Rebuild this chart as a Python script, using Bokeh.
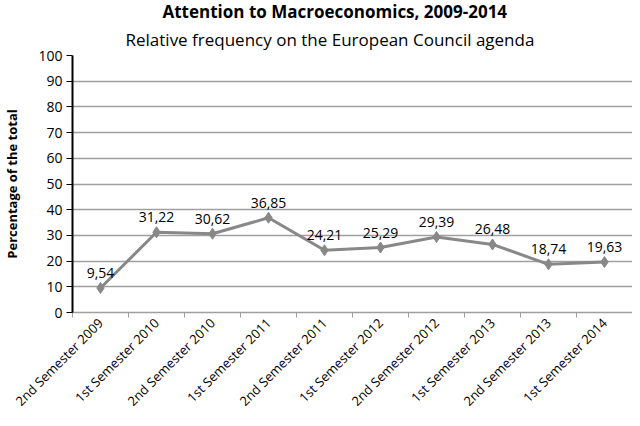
from bokeh.plotting import figure
from bokeh.models import FixedTicker, ColumnDataSource, Range1d, LabelSet, Title
from bokeh.core.properties import value
from bokeh.embed import file_html
from bokeh.resources import INLINE

categories = ["2nd Semester 2009", "1st Semester 2010", "2nd Semester 2010", "1st Semester 2011",
              "2nd Semester 2011", "1st Semester 2012", "2nd Semester 2012", "1st Semester 2013",
              "2nd Semester 2013", "1st Semester 2014"]
values = [9.54, 31.22, 30.62, 36.85, 24.21, 25.29, 29.39, 26.48, 18.74, 19.63]
value_labels = ["9,54", "31,22", "30,62", "36,85", "24,21", "25,29", "29,39", "26,48", "18,74", "19,63"]
y_ticks = list(range(0, 101, 10))

FONT = "Open Sans"
xs = [i + 0.5 for i in range(len(categories))]
src = ColumnDataSource(dict(x=xs, y=values, lab=value_labels))

p = figure(width=632, height=418, output_backend="svg", toolbar_location=None,
           x_range=Range1d(0, len(categories)), y_range=Range1d(0, 100),
           min_border_left=67, min_border_right=0, min_border_top=0, min_border_bottom=0)
p.outline_line_color = None
p.background_fill_color = "white"

p.add_layout(Title(text="Relative frequency on the European Council agenda", align="left", offset=53,
                   text_font=FONT, text_font_size="17px", text_font_style="normal",
                   text_color="black", standoff=10), "above")
p.add_layout(Title(text="Attention to Macroeconomics, 2009-2014", align="left", offset=90,
                   text_font=FONT, text_font_size="17px", text_font_style="bold",
                   text_color="black", standoff=-5), "above")

p.line("x", "y", source=src, line_color="#888888", line_width=3)
p.scatter("x", "y", source=src, marker="diamond", size=11, fill_color="#888888", line_color="#888888")
p.add_layout(LabelSet(x="x", y="y", text="lab", source=src, text_align="center",
                      text_baseline="bottom", y_offset=10, text_font=value(FONT),
                      text_font_size=value("14px"), text_color="black"))

# x axis
p.xaxis.ticker = FixedTicker(ticks=xs, minor_ticks=list(range(len(categories) + 1)))
p.xaxis.major_label_overrides = {x: c for x, c in zip(xs, categories)}
p.xaxis.major_label_orientation = 0.785
p.xaxis.major_tick_out = 0
p.xaxis.major_tick_in = 0
p.xaxis.minor_tick_out = 5
p.xaxis.minor_tick_in = 0
p.xaxis.minor_tick_line_color = "#a0a0a0"
p.xaxis.axis_line_color = "#a0a0a0"
p.xaxis.axis_line_width = 1.5
p.xaxis.major_label_text_font = FONT
p.xaxis.major_label_text_font_size = "13px"
p.xaxis.major_label_text_color = "black"
p.xaxis.major_label_standoff = 3

# y axis
p.yaxis.ticker = FixedTicker(ticks=y_ticks)
p.yaxis.minor_tick_line_color = None
p.yaxis.major_tick_out = 6
p.yaxis.major_tick_in = 0
p.yaxis.axis_line_color = "black"
p.yaxis.axis_line_width = 2
p.yaxis.major_tick_line_color = "black"
p.yaxis.major_label_text_font = FONT
p.yaxis.major_label_text_font_size = "14px"
p.yaxis.major_label_text_color = "black"
p.yaxis.major_label_standoff = 4
p.yaxis.axis_label = "Percentage of the total"
p.yaxis.axis_label_text_font = FONT
p.yaxis.axis_label_text_font_size = "13px"
p.yaxis.axis_label_text_font_style = "bold"
p.yaxis.axis_label_text_color = "black"
p.yaxis.axis_label_standoff = 14

p.xgrid.grid_line_color = None
p.ygrid.ticker = FixedTicker(ticks=y_ticks)
p.ygrid.grid_line_color = "#a0a0a0"
p.ygrid.grid_line_width = 1.5

open("out.html", "w").write(file_html(p, INLINE))
